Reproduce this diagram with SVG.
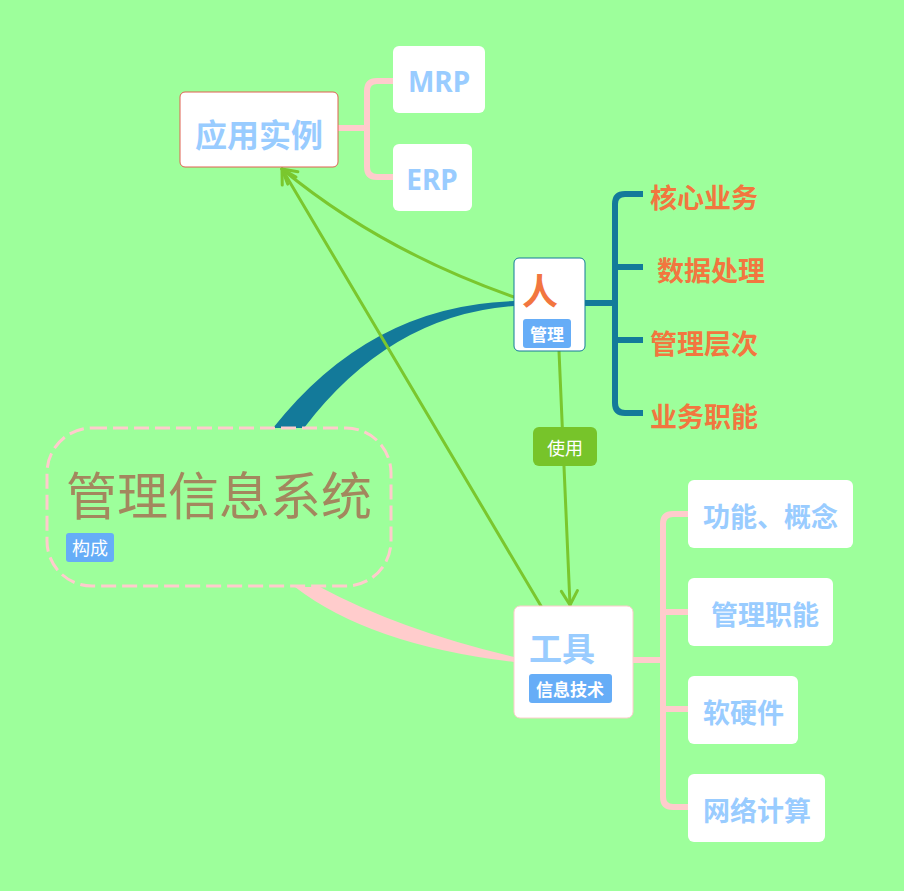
<svg xmlns="http://www.w3.org/2000/svg" width="904" height="891" viewBox="0 0 904 891">
<defs>
<style>
.cjk{font-family:"Noto Sans CJK SC","Noto Sans",sans-serif;dominant-baseline:central}
.b{font-weight:bold}
.org{fill:#f2763f;font-size:27px}
.lb{fill:#99ccff}
.tag{fill:#66adf7}
.tagt{fill:#ffffff;font-size:17px}
.card{fill:#ffffff}
.green{stroke:#7ac72e;stroke-width:3;fill:none;stroke-linecap:round}
</style>
<marker id="arr" viewBox="0 0 20 20" refX="18" refY="10" markerWidth="20" markerHeight="20" markerUnits="userSpaceOnUse" orient="auto">
<path d="M4,2 L18,10 L4,18" fill="none" stroke="#7ac72e" stroke-width="3" stroke-linecap="round" stroke-linejoin="round"/>
</marker>
</defs>
<rect width="904" height="891" fill="#9dff9b"/>

<g id="connectors">
<path d="M273,428 Q370,305 514,301 L514,306 Q390,315 304,428 Z" fill="#137a9a"/>
<path d="M295,587 Q370,645 514,662 L514,657 Q400,630 320,587 Z" fill="#ffcccc"/>
<path d="M585,303 H615 M643,194 H625 Q615,194 615,204 V403 Q615,413 625,413 H643 M615,267 H643 M615,340 H643" fill="none" stroke="#137a9a" stroke-width="6"/>
<path d="M338,128 H367 M393,81 H377 Q367,81 367,91 V167 Q367,177 377,177 H393" fill="none" stroke="#ffcccc" stroke-width="6"/>
<path d="M633,660 H663 M688,514 H673 Q663,514 663,524 V797 Q663,807 673,807 H688 M663,612 H688 M663,709 H688" fill="none" stroke="#ffcccc" stroke-width="6"/>
<path class="green" d="M559,351 L570,605" marker-end="url(#arr)"/>
<path class="green" d="M514,297 Q380,250 282,169" marker-end="url(#arr)"/>
<path class="green" d="M541,606 L282,169" marker-end="url(#arr)"/>
<g id="label-use">
<rect x="533" y="427" width="64" height="39" rx="6" fill="#77c42a"/>
<text class="cjk" x="565" y="447" text-anchor="middle" font-size="18" fill="#ffffff">使用</text>
</g>
</g>

<g id="node-central">
<rect x="47" y="428" width="344" height="158" rx="45" fill="none" stroke="#ffcccc" stroke-width="3" stroke-dasharray="15 6"/>
<text class="cjk" x="219" y="493" text-anchor="middle" font-size="51" fill="#a3875e">管理信息系统</text>
<rect x="66" y="533" width="48" height="29" rx="3" class="tag"/>
<text class="cjk" x="90" y="547" text-anchor="middle" font-size="18" fill="#ffffff">构成</text>
</g>

<g id="node-ren">
<rect x="514" y="258" width="71" height="93" rx="5" class="card" stroke="#137a9a" stroke-width="1"/>
<text class="cjk b" x="540" y="289" text-anchor="middle" font-size="36" fill="#f2763f">人</text>
<rect x="523" y="319" width="48" height="29" rx="3" class="tag"/>
<text class="cjk b tagt" x="547" y="333" text-anchor="middle">管理</text>
</g>

<g id="node-hexin"><text class="cjk b org" x="650" y="196">核心业务</text></g>
<g id="node-shuju"><text class="cjk b org" x="657" y="269">数据处理</text></g>
<g id="node-cengci"><text class="cjk b org" x="650" y="342">管理层次</text></g>
<g id="node-zhineng"><text class="cjk b org" x="650" y="415">业务职能</text></g>

<g id="node-yingyong">
<rect x="180" y="92" width="158" height="75" rx="5" class="card" stroke="#e06050" stroke-width="1"/>
<text class="cjk b lb" x="259" y="133" text-anchor="middle" font-size="32">应用实例</text>
</g>
<g id="node-mrp">
<rect x="393" y="46" width="92" height="67" rx="6" class="card"/>
<text class="b lb" x="439" y="81" text-anchor="middle" dominant-baseline="central" font-family="'Noto Sans','Open Sans',sans-serif" font-size="28">MRP</text>
</g>
<g id="node-erp">
<rect x="393" y="144" width="79" height="67" rx="6" class="card"/>
<text class="b lb" x="432" y="179" text-anchor="middle" dominant-baseline="central" font-family="'Noto Sans','Open Sans',sans-serif" font-size="28">ERP</text>
</g>

<g id="node-gongju">
<rect x="514" y="606" width="119" height="112" rx="6" class="card" stroke="#ffcccc" stroke-width="1"/>
<text class="cjk b lb" x="529" y="647" font-size="33">工具</text>
<rect x="529" y="674" width="83" height="29" rx="3" class="tag"/>
<text class="cjk b tagt" x="570" y="688" text-anchor="middle">信息技术</text>
</g>

<g id="node-gongneng">
<rect x="688" y="480" width="165" height="68" rx="6" class="card"/>
<text class="cjk b lb" x="703" y="515" font-size="27">功能、概念</text>
</g>
<g id="node-guanlizhineng">
<rect x="688" y="578" width="145" height="68" rx="6" class="card"/>
<text class="cjk b lb" x="711" y="613" font-size="27">管理职能</text>
</g>
<g id="node-ruanyingjian">
<rect x="688" y="676" width="110" height="68" rx="6" class="card"/>
<text class="cjk b lb" x="703" y="711" font-size="27">软硬件</text>
</g>
<g id="node-wangluo">
<rect x="688" y="774" width="137" height="68" rx="6" class="card"/>
<text class="cjk b lb" x="703" y="809" font-size="27">网络计算</text>
</g>
</svg>
